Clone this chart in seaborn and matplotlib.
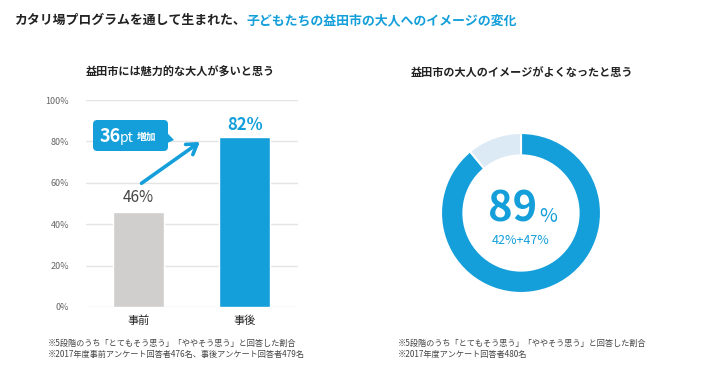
import matplotlib
matplotlib.use("Agg")
import matplotlib.pyplot as plt
from matplotlib.patches import FancyBboxPatch, Polygon
import seaborn as sns
import pandas as pd

# data
bar_labels = ["事前", "事後"]
bar_values = [46, 82]
increase_pt = 36
donut_values = [89, 11]
donut_parts = [42, 47]
y_ticks = [0, 20, 40, 60, 80, 100]

BLUE = "#149fda"
GRAY_BAR = "#d1cfcd"
LIGHT = "#dceaf6"
TEXT = "#222222"

sns.set_style("white")
plt.rcParams["font.family"] = ["Noto Sans CJK JP", "DejaVu Sans"]

fig = plt.figure(figsize=(7.12, 3.88), dpi=100)

# main title, two colours
t1 = fig.text(15 / 712, 1 - 20 / 388, "カタリ場プログラムを通して生まれた、",
              fontsize=9.3, fontweight="bold", color=TEXT, va="center", ha="left")
fig.canvas.draw()
ext = t1.get_window_extent()
fig.text(ext.x1 / 712, 1 - 20 / 388, "子どもたちの益田市の大人へのイメージの変化",
         fontsize=9.3, fontweight="bold", color=BLUE, va="center", ha="left")

# ---- left: bar chart ----
ax = fig.add_axes([86 / 712, 1 - 307 / 388, 212 / 712, 207 / 388])
df = pd.DataFrame({"when": bar_labels, "value": bar_values})
sns.barplot(data=df, x="when", y="value", hue="when", saturation=1,
            palette=[GRAY_BAR, BLUE], width=0.48, legend=False, ax=ax, zorder=3)
ax.set_xlim(-0.49, 1.5)
ax.set_ylim(0, 100)
ax.set_yticks(y_ticks)
ax.set_yticklabels([f"{v}%" for v in y_ticks], fontsize=6.5, color="#666666")
ax.tick_params(axis="x", labelsize=8, colors=TEXT, length=0, pad=6)
ax.tick_params(axis="y", length=0, pad=12)
ax.yaxis.grid(True, color="#e4e4e4", lw=1, zorder=0)
ax.set_xlabel("")
ax.set_ylabel("")
for s in ax.spines.values():
    s.set_visible(False)

ax.text(0, bar_values[0] + 3, f"{bar_values[0]}%", ha="center", va="bottom",
        fontsize=11, color="#444444")
ax.text(1, bar_values[1] + 1.5, f"{bar_values[1]}%", ha="center", va="bottom",
        fontsize=12, fontweight="bold", color=BLUE)

ax.annotate("", xy=(0.6, 80.5), xytext=(0.01, 59),
            arrowprops=dict(arrowstyle="->,head_length=0.7,head_width=0.45",
                            color=BLUE, lw=2.6))

fig.text(180 / 712, 1 - 72 / 388, "益田市には魅力的な大人が多いと思う",
         fontsize=8, fontweight="bold", color=TEXT, ha="center", va="center")

# callout box
bx0, bx1 = 93 / 712, 168 / 712
by0, by1 = 1 - 151 / 388, 1 - 120 / 388
box = FancyBboxPatch((bx0, by0), bx1 - bx0, by1 - by0,
                     boxstyle="round,pad=0,rounding_size=0.006",
                     mutation_aspect=712 / 388, fc=BLUE, ec="none",
                     transform=fig.transFigure)
fig.patches.append(box)
tri = Polygon([[bx1 - 0.001, 1 - 133 / 388], [bx1 - 0.001, 1 - 143 / 388],
               [bx1 + 6 / 712, 1 - 140 / 388]], closed=True, fc=BLUE, ec="none",
              transform=fig.transFigure)
fig.patches.append(tri)
cy = 1 - 136 / 388
fig.text(100 / 712, cy, f"{increase_pt}", fontsize=13, fontweight="bold",
         color="white", ha="left", va="center")
fig.text(120 / 712, cy - 0.004, "pt", fontsize=10, color="white", ha="left", va="center")
fig.text(137 / 712, cy - 0.002, "増加", fontsize=7, fontweight="bold",
         color="white", ha="left", va="center")

fig.text(48 / 712, 1 - 349 / 388,
         "※5段階のうち「とてもそう思う」「ややそう思う」と回答した割合\n"
         "※2017年度事前アンケート回答者476名、事後アンケート回答者479名",
         fontsize=5.9, color="#444444", ha="left", va="center", linespacing=1.25)

# ---- right: donut ----
ax2 = fig.add_axes([(521 - 80) / 712, 1 - (213 + 80) / 388, 160 / 712, 160 / 388])
ax2.pie(donut_values, colors=[BLUE, LIGHT], startangle=90, counterclock=False,
        radius=1, wedgeprops=dict(width=0.28, edgecolor="white", linewidth=1.5))
ax2.set_xlim(-1, 1)
ax2.set_ylim(-1, 1)
ax2.set_aspect("equal")
ax2.axis("off")

ax2.text(0.2, 0.05, f"{donut_values[0]}", fontsize=30, fontweight="bold",
         color=BLUE, ha="right", va="center")
ax2.text(0.23, -0.05, "%", fontsize=14, color=BLUE, ha="left", va="center")
ax2.text(-0.01, -0.34, f"{donut_parts[0]}%+{donut_parts[1]}%", fontsize=9,
         color=BLUE, ha="center", va="center")

fig.text(522 / 712, 1 - 73 / 388, "益田市の大人のイメージがよくなったと思う",
         fontsize=8, fontweight="bold", color=TEXT, ha="center", va="center")

fig.text(398 / 712, 1 - 349 / 388,
         "※5段階のうち「とてもそう思う」「ややそう思う」と回答した割合\n"
         "※2017年度アンケート回答者480名",
         fontsize=5.9, color="#444444", ha="left", va="center", linespacing=1.25)

fig.savefig("out.png", dpi=100)
